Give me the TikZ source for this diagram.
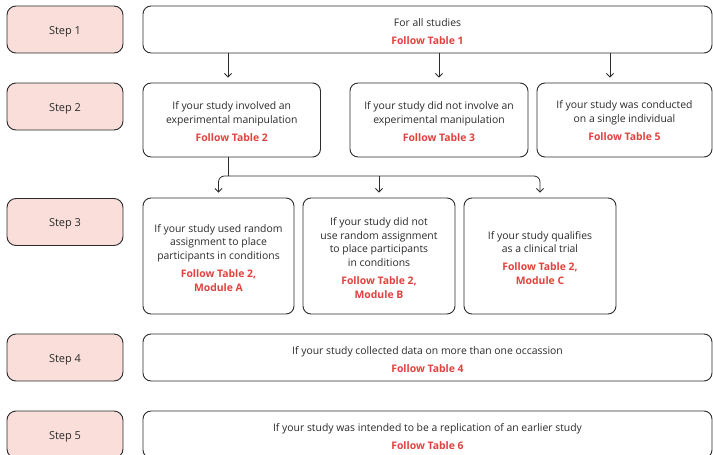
\documentclass[tikz,border=0pt]{standalone}
\usepackage{fontspec}
\setmainfont{Open Sans}
\usetikzlibrary{arrows.meta}
\definecolor{stepfill}{HTML}{F9DEDA}
\definecolor{redtxt}{HTML}{E2423F}
\definecolor{ink}{HTML}{2B2B2B}
\newcommand{\fol}[1]{\textcolor{redtxt}{\bfseries #1}}
\tikzset{
  stepbox/.style={draw=ink, line width=0.9pt, fill=stepfill, rounded corners=9pt, minimum width=116pt, minimum height=47pt, inner sep=0pt},
  steptxt/.style={font=\fontsize{11}{14}\selectfont, text=ink, inner sep=0pt, yshift=-2.3pt},
  mbox/.style={draw=ink, line width=0.9pt, fill=white, rounded corners=8pt, inner sep=0pt},
  mtxt/.style={align=center, font=\fontsize{10.4}{13.8}\selectfont, text=ink, inner sep=0pt, yshift=-1.8pt},
  arr/.style={draw=ink, line width=0.8pt, -{Straight Barb[length=3.5pt,width=7pt]}, shorten >=5pt},
  ln/.style={draw=ink, line width=0.8pt}
}
\begin{document}
\begin{tikzpicture}[x=1pt,y=-1pt]
\useasboundingbox (0,0) rectangle (713,455);
\clip (0,0) rectangle (713,455);
% step labels
\node[stepbox] (st1) at (65,29.5) {};
\node[stepbox] (st2) at (65,106.5) {};
\node[stepbox] (st3) at (65,222) {};
\node[stepbox] (st4) at (65,357.5) {};
\node[stepbox] (st5) at (65,434.5) {};
\node[steptxt] (st1t) at (st1) {Step 1};
\node[steptxt] (st2t) at (st2) {Step 2};
\node[steptxt] (st3t) at (st3) {Step 3};
\node[steptxt] (st4t) at (st4) {Step 4};
\node[steptxt] (st5t) at (st5) {Step 5};
% main boxes
\node[mbox, minimum width=569pt, minimum height=47pt] (m1) at (427.5,29.5) {};
\node[mbox, minimum width=177.5pt, minimum height=74pt] (s2a) at (231.75,120) {};
\node[mbox, minimum width=178pt, minimum height=74pt] (s2b) at (439,120) {};
\node[mbox, minimum width=175pt, minimum height=74pt] (s2c) at (624.5,120) {};
\node[mbox, minimum width=151pt, minimum height=116pt] (s3a) at (218.5,256) {};
\node[mbox, minimum width=152pt, minimum height=116pt] (s3b) at (379,256) {};
\node[mbox, minimum width=152pt, minimum height=116pt] (s3c) at (540,256) {};
\node[mbox, minimum width=569pt, minimum height=47pt] (m4) at (427.5,357.5) {};
\node[mbox, minimum width=569pt, minimum height=47pt] (m5) at (427.5,434.5) {};
% texts
\node[mtxt] (m1t) at (m1) {For all studies\\[4.5pt]\fol{Follow Table 1}};
\node[mtxt] (s2at) at (s2a) {If your study involved an\\experimental manipulation\\[4pt]\fol{Follow Table 2}};
\node[mtxt] (s2bt) at (s2b) {If your study did not involve an\\experimental manipulation\\[4pt]\fol{Follow Table 3}};
\node[mtxt] (s2ct) at ([yshift=1.5pt]s2c) {If your study was conducted\\on a single individual\\[4pt]\fol{Follow Table 5}};
\node[mtxt] (s3at) at (s3a) {If your study used random\\assignment to place\\participants in conditions\\[4pt]\fol{Follow Table 2,}\\\fol{Module A}};
\node[mtxt] (s3bt) at (s3b) {If your study did not\\use random assignment\\to place participants\\in conditions\\[4pt]\fol{Follow Table 2,}\\\fol{Module B}};
\node[mtxt] (s3ct) at (s3c) {If your study qualifies\\as a clinical trial\\[4pt]\fol{Follow Table 2,}\\\fol{Module C}};
\node[mtxt] (m4t) at (m4) {If your study collected data on more than one occassion\\[4pt]\fol{Follow Table 4}};
\node[mtxt] (m5t) at (m5) {If your study was intended to be a replication of an earlier study\\[4pt]\fol{Follow Table 6}};
% arrows step 1 -> step 2
\coordinate (a1) at (228,53);
\coordinate (a2) at (439,53);
\coordinate (a3) at (610,53);
\draw[arr] (a1) -- (a1 |- s2a.north);
\draw[arr] (a2) -- (a2 |- s2b.north);
\draw[arr] (a3) -- (a3 |- s2c.north);
% split step 2 -> step 3
\coordinate (b1) at (228,157);
\coordinate (hy) at (228,176);
\draw[ln] (b1) -- (hy);
\draw[arr, rounded corners=6pt] (hy) -| (s3a.north);
\draw[arr, rounded corners=6pt] (hy) -| (s3c.north);
\draw[arr] (s3b.north |- hy) -- (s3b.north);
\end{tikzpicture}
\end{document}
